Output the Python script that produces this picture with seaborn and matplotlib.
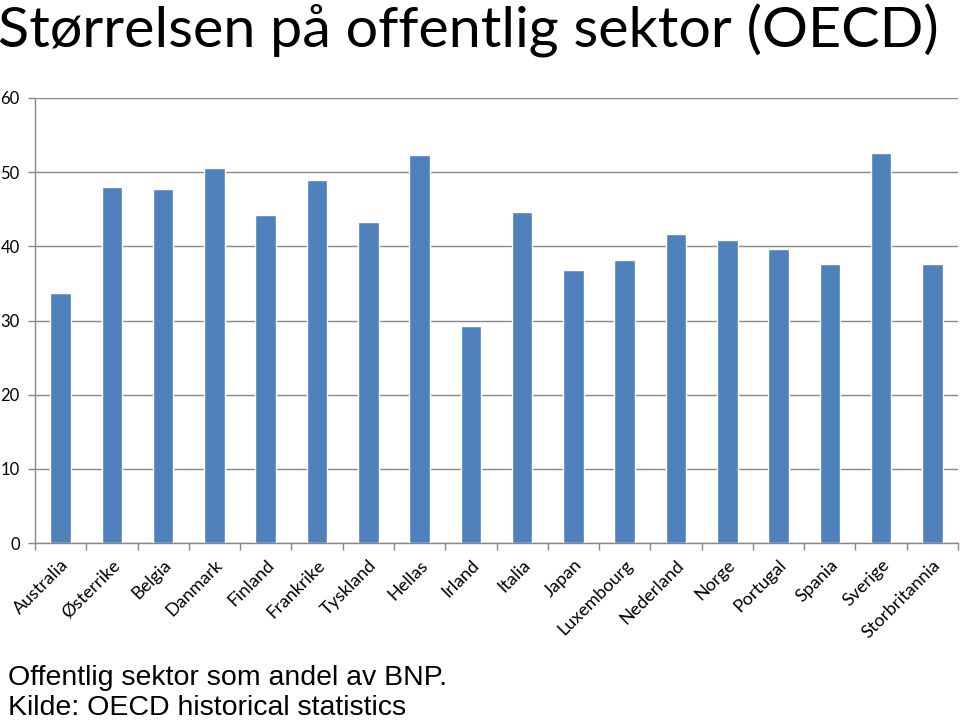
import numpy as np
import pandas as pd
import matplotlib
matplotlib.use("Agg")
import matplotlib.pyplot as plt
import seaborn as sns

countries = ["Australia", "Østerrike", "Belgia", "Danmark", "Finland", "Frankrike",
             "Tyskland", "Hellas", "Irland", "Italia", "Japan", "Luxembourg",
             "Nederland", "Norge", "Portugal", "Spania", "Sverige", "Storbritannia"]
values = [33.7, 48.0, 47.7, 50.5, 44.2, 48.9, 43.3, 52.3, 29.2, 44.6, 36.8, 38.1,
          41.6, 40.8, 39.6, 37.6, 52.6, 37.6]
yticks = [0, 10, 20, 30, 40, 50, 60]

title = "Størrelsen på offentlig sektor (OECD)"
note1 = "Offentlig sektor som andel av BNP."
note2 = "Kilde: OECD historical statistics"

sns.set_theme(style="white")
plt.rcParams['font.family'] = ['Lato', 'DejaVu Sans']
plt.rcParams['text.color'] = 'black'
plt.rcParams['xtick.color'] = 'black'
plt.rcParams['ytick.color'] = 'black'

df = pd.DataFrame({"land": countries, "andel": values})

fig = plt.figure(figsize=(9.6, 7.2), dpi=100)
ax = fig.add_axes([35/960, 177/720, 923/960, (543-98)/720])

sns.barplot(data=df, x="land", y="andel", color="#4F81BD", width=0.4,
            saturation=1, ax=ax, zorder=3)

ax.set_ylim(0, 60)
ax.set_xlim(-0.5, len(countries) - 0.5)
ax.set_yticks(yticks)
ax.set_yticklabels([str(t) for t in yticks], fontsize=12)
ax.yaxis.grid(True, color="#878787", linewidth=1)
ax.set_axisbelow(True)
ax.set_xlabel("")
ax.set_ylabel("")

for s in ["top", "right"]:
    ax.spines[s].set_visible(False)
for s in ["left", "bottom"]:
    ax.spines[s].set_color("#878787")
    ax.spines[s].set_linewidth(1)

ax.tick_params(axis="y", which="major", length=5, width=1, color="#878787",
               labelcolor="black", direction="out", left=True, pad=6)
ax.set_xticks(np.arange(len(countries)))
ax.set_xticks(np.arange(-0.5, len(countries), 1), minor=True)
ax.tick_params(axis="x", which="major", length=0, pad=10, labelcolor="black")
ax.tick_params(axis="x", which="minor", length=5, width=1, color="#878787",
               direction="out", bottom=True)
ax.set_xticklabels(countries, rotation=45, ha="right", rotation_mode="anchor",
                   fontsize=13)

fig.text(-0.002, (720-48)/720, title, fontsize=41.4, ha="left", va="baseline", color="black")
fig.text(8/960, (720-685)/720, note1, fontsize=20.5, ha="left", va="baseline",
         family="Liberation Sans", color="black")
fig.text(8/960, (720-715)/720, note2, fontsize=20.5, ha="left", va="baseline",
         family="Liberation Sans", color="black")

fig.savefig("out.png", dpi=100)
